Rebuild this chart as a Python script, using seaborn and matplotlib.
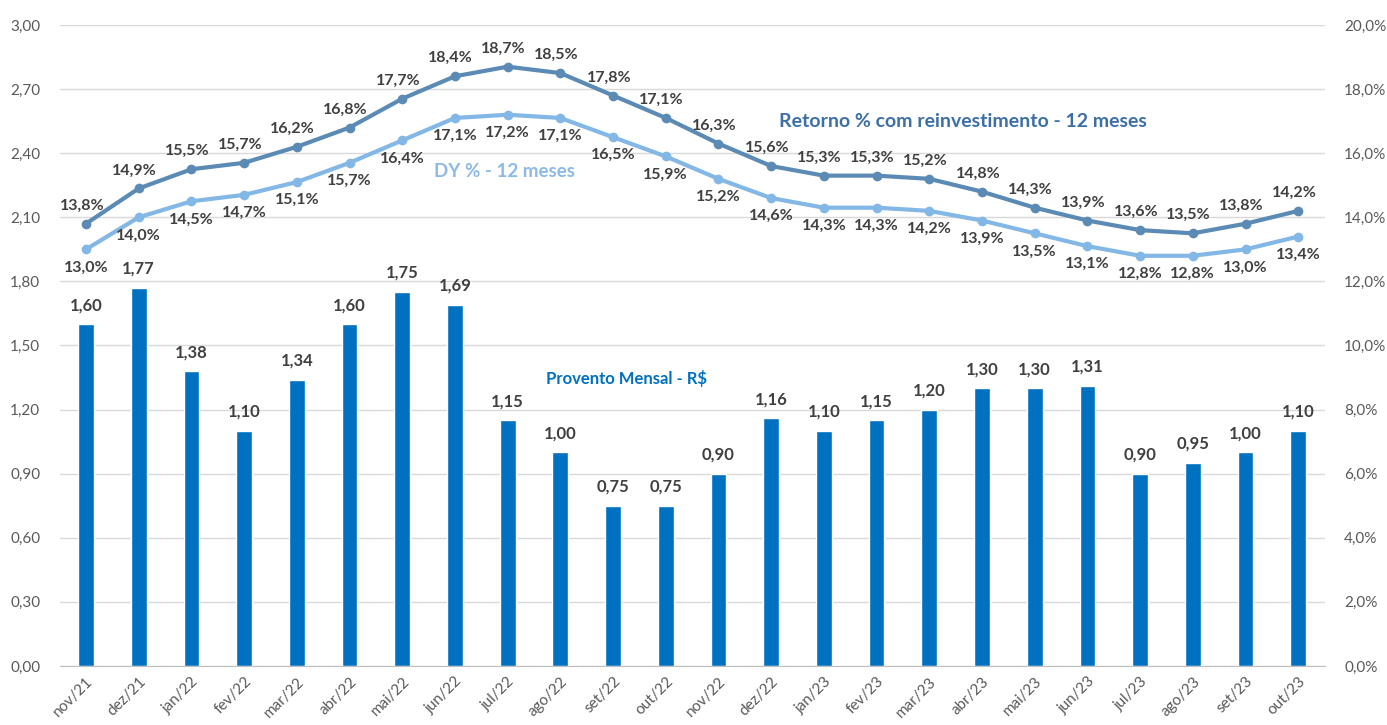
import numpy as np
import pandas as pd
import seaborn as sns
import matplotlib.pyplot as plt
from matplotlib.ticker import FuncFormatter, FixedLocator

meses = ['nov/21', 'dez/21', 'jan/22', 'fev/22', 'mar/22', 'abr/22', 'mai/22', 'jun/22',
         'jul/22', 'ago/22', 'set/22', 'out/22', 'nov/22', 'dez/22', 'jan/23', 'fev/23',
         'mar/23', 'abr/23', 'mai/23', 'jun/23', 'jul/23', 'ago/23', 'set/23', 'out/23']
provento = [1.60, 1.77, 1.38, 1.10, 1.34, 1.60, 1.75, 1.69, 1.15, 1.00, 0.75, 0.75,
            0.90, 1.16, 1.10, 1.15, 1.20, 1.30, 1.30, 1.31, 0.90, 0.95, 1.00, 1.10]
retorno = [13.8, 14.9, 15.5, 15.7, 16.2, 16.8, 17.7, 18.4, 18.7, 18.5, 17.8, 17.1,
           16.3, 15.6, 15.3, 15.3, 15.2, 14.8, 14.3, 13.9, 13.6, 13.5, 13.8, 14.2]
dy = [13.0, 14.0, 14.5, 14.7, 15.1, 15.7, 16.4, 17.1, 17.2, 17.1, 16.5, 15.9,
      15.2, 14.6, 14.3, 14.3, 14.2, 13.9, 13.5, 13.1, 12.8, 12.8, 13.0, 13.4]

sns.set_style('white')
plt.rcParams['font.family'] = ['Lato', 'DejaVu Sans']

COR_BARRA = '#0070C0'
COR_RET = '#5B8BB5'
COR_DY = '#82B7E6'
COR_TXT = '#404040'
COR_TICK = '#595959'

df = pd.DataFrame({'mes': meses, 'provento': provento, 'retorno': retorno, 'dy': dy})
df['pos'] = np.arange(len(df))

fig, ax = plt.subplots(figsize=(13.87, 7.25), dpi=100)
fig.subplots_adjust(left=0.043, right=0.955, top=0.9655, bottom=0.0814)

# barras - provento mensal
sns.barplot(data=df, x='pos', y='provento', color=COR_BARRA, width=0.3,
            saturation=1, ax=ax, native_scale=True)
for x, v in zip(df['pos'], df['provento']):
    ax.annotate(f'{v:.2f}'.replace('.', ','), (x, v), xytext=(0, 8),
                textcoords='offset points', ha='center', va='bottom',
                fontsize=12, fontweight='bold', color=COR_TXT)

ax.set_ylim(0, 3.0)
ax.set_yticks(np.arange(0, 3.01, 0.3))
ax.yaxis.set_major_formatter(FuncFormatter(lambda v, p: f'{v:.2f}'.replace('.', ',')))
ax.set_xlim(-0.5, len(df) - 0.5)
ax.set_xticks(df['pos'])
ax.set_xticklabels(meses, rotation=45, ha='right', rotation_mode='anchor')
ax.xaxis.set_minor_locator(FixedLocator(np.arange(-0.5, len(df), 1)))
ax.tick_params(axis='x', which='major', length=0, pad=6, labelsize=11, labelcolor=COR_TICK)
ax.tick_params(axis='x', which='minor', length=5, color='#BFBFBF', width=1)
ax.tick_params(axis='y', length=0, labelsize=11, labelcolor=COR_TICK, pad=14)
ax.grid(axis='y', color='#D9D9D9', linewidth=1)
ax.set_axisbelow(True)
ax.set_xlabel('')
ax.set_ylabel('')
for s in ['top', 'left', 'right']:
    ax.spines[s].set_visible(False)
ax.spines['bottom'].set_color('#BFBFBF')

# linhas - eixo secundário
ax2 = ax.twinx()
sns.lineplot(data=df, x='pos', y='retorno', color=COR_RET, linewidth=3,
             marker='o', markersize=7, markeredgewidth=0, ax=ax2)
sns.lineplot(data=df, x='pos', y='dy', color=COR_DY, linewidth=3,
             marker='o', markersize=7, markeredgewidth=0, ax=ax2)
for x, v in zip(df['pos'], df['retorno']):
    ax2.annotate(f'{v:.1f}%'.replace('.', ','), (x, v), xytext=(-3, 8),
                 textcoords='offset points', ha='center', va='bottom',
                 fontsize=11.5, fontweight='bold', color=COR_TXT)
for x, v in zip(df['pos'], df['dy']):
    ax2.annotate(f'{v:.1f}%'.replace('.', ','), (x, v), xytext=(0, -8),
                 textcoords='offset points', ha='center', va='top',
                 fontsize=11.5, fontweight='bold', color=COR_TXT)

ax2.set_ylim(0, 20)
ax2.set_yticks(np.arange(0, 20.1, 2))
ax2.yaxis.set_major_formatter(FuncFormatter(lambda v, p: f'{v:.1f}%'.replace('.', ',')))
ax2.tick_params(axis='y', length=0, labelsize=11, labelcolor=COR_TICK, pad=14)
ax2.set_xlabel('')
ax2.set_ylabel('')
for s in ['top', 'left', 'right', 'bottom']:
    ax2.spines[s].set_visible(False)

# rótulos das séries
ax.text(0.714, 0.850, 'Retorno % com reinvestimento - 12 meses', transform=ax.transAxes,
        ha='center', va='center', fontsize=14, fontweight='bold', color='#3C6FA6')
ax.text(0.352, 0.771, 'DY % - 12 meses', transform=ax.transAxes,
        ha='center', va='center', fontsize=13.5, fontweight='bold', color='#8DB9E6')
ax.text(0.448, 0.449, 'Provento Mensal - R$', transform=ax.transAxes,
        ha='center', va='center', fontsize=12, fontweight='bold', color=COR_BARRA)

fig.savefig('out.png', dpi=100)
